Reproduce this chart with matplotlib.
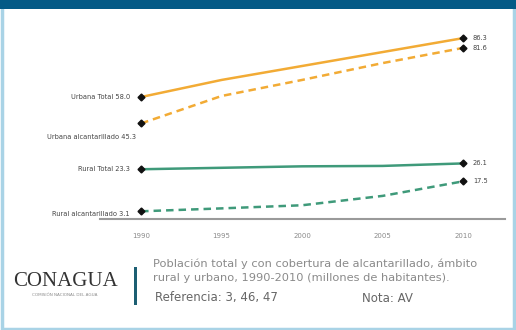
import matplotlib.pyplot as plt
from matplotlib.patches import Rectangle

years = [1990, 1995, 2000, 2005, 2010]
urbana_total = [58.0, 66.2, 72.9, 79.6, 86.3]
urbana_alc = [45.3, 58.5, 66.2, 74.3, 81.6]
rural_total = [23.3, 24.0, 24.7, 24.9, 26.1]
rural_alc = [3.1, 4.5, 6.0, 10.5, 17.5]

left_labels = ["Urbana Total 58.0", "Urbana alcantarillado 45.3",
               "Rural Total 23.3", "Rural alcantarillado 3.1"]
right_labels = ["86.3", "81.6", "26.1", "17.5"]

ORANGE = "#f2ab35"
GREEN = "#3f9a7a"
GREY = "#8a8a8a"
DARK = "#444444"

fig = plt.figure(figsize=(5.16, 3.30), dpi=100)
W, H = 516, 330

# frame and top bar
fig.patches.append(Rectangle((0.003, 0.003), 0.994, 0.994, transform=fig.transFigure,
                             fill=False, edgecolor="#a9d3e6", linewidth=2.5))
fig.patches.append(Rectangle((0, 1 - 9 / H), 1, 9 / H, transform=fig.transFigure,
                             facecolor="#045a86", edgecolor="none"))

ax = fig.add_axes([100 / W, 1 - 219 / H, 405 / W, 199 / H])
ax.set_xlim(1987.45, 2012.6)
ax.set_ylim(-0.6, 95)

series = [
    (urbana_total, ORANGE, "-"),
    (urbana_alc, ORANGE, "--"),
    (rural_total, GREEN, "-"),
    (rural_alc, GREEN, "--"),
]
for vals, col, ls in series:
    line, = ax.plot(years, vals, color=col, linestyle=ls, linewidth=1.8)
    if ls == "--":
        line.set_dashes((3, 2))
    ax.plot([years[0], years[-1]], [vals[0], vals[-1]], linestyle="none",
            marker="D", markersize=3.5, color="#111111")

offsets = [(-8, 0), (-4, -10), (-8, 0), (-8, -2)]
for vals, lab, off in zip([s[0] for s in series], left_labels, offsets):
    ax.annotate(lab, (years[0], vals[0]), xytext=off, textcoords="offset points",
                ha="right", va="center", fontsize=4.8, color=DARK)
for vals, lab in zip([s[0] for s in series], right_labels):
    ax.annotate(lab, (years[-1], vals[-1]), xytext=(7, 0), textcoords="offset points",
                ha="left", va="center", fontsize=4.8, color=DARK)

for s in ["top", "right", "left"]:
    ax.spines[s].set_visible(False)
ax.spines["bottom"].set_color("#9a9a9a")
ax.spines["bottom"].set_linewidth(1.5)
ax.set_yticks([])
ax.set_xticks(years)
ax.set_xticklabels([str(y) for y in years])
ax.tick_params(axis="x", length=0, labelsize=5, labelcolor=GREY, pad=10)

# footer
fig.text(65 / W, 1 - 281 / H, "CONAGUA", family="Liberation Serif", fontsize=15,
         color="#333333", ha="center", va="center")
fig.text(65 / W, 1 - 295 / H, "COMISIÓN NACIONAL DEL AGUA", fontsize=3,
         color=GREY, ha="center", va="center")
fig.patches.append(Rectangle((134 / W, 1 - 305 / H), 3 / W, 38 / H, transform=fig.transFigure,
                             facecolor="#1d5f73", edgecolor="none"))
fig.text(153 / W, 1 - 271 / H,
         "Población total y con cobertura de alcantarillado, ámbito\n"
         "rural y urbano, 1990-2010 (millones de habitantes).",
         fontsize=8.2, color=GREY, ha="left", va="center", linespacing=1.45)
fig.text(155 / W, 1 - 298 / H, "Referencia: 3, 46, 47", fontsize=8.5,
         color="#666666", ha="left", va="center")
fig.text(362 / W, 1 - 298 / H, "Nota: AV", fontsize=8.5,
         color="#666666", ha="left", va="center")

fig.savefig("out.png", dpi=100)
